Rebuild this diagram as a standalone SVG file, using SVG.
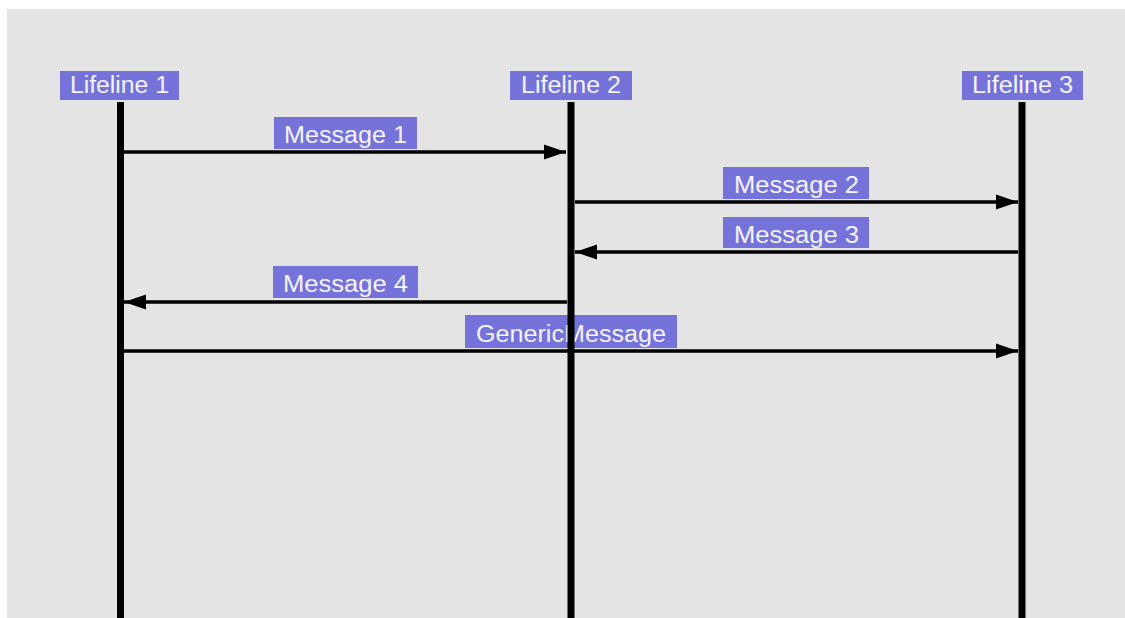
<svg xmlns="http://www.w3.org/2000/svg" width="1125" height="618" viewBox="0 0 1125 618">
<style>
.bg{fill:#e4e4e4}
.lbl{fill:#7573d9}
.t{font-family:"Liberation Sans",Arial,Helvetica,sans-serif;font-size:23px;fill:#f4f4ff}
.life{stroke:#000;stroke-width:7;fill:none}
.msg{stroke:#000;stroke-width:3.5;fill:none;marker-end:url(#ah)}
</style>
<defs>
<marker id="ah" markerUnits="userSpaceOnUse" markerWidth="24" markerHeight="16" refX="22" refY="8" orient="auto">
<path d="M0,0.5 L22,8 L0,15.5 z" fill="#000"/>
</marker>
</defs>
<rect width="1125" height="618" fill="#fff"/>
<rect class="bg" x="7" y="9" width="1118" height="609"/>
<g id="connectors">
<line id="m1" class="msg" x1="124" y1="152" x2="566" y2="152"/>
<line id="m2" class="msg" x1="575" y1="202" x2="1018" y2="202"/>
<line id="m3" class="msg" x1="1018" y1="252" x2="575" y2="252"/>
<line id="m4" class="msg" x1="567" y1="302" x2="124" y2="302"/>
<line id="mg" class="msg" x1="124" y1="351" x2="1018" y2="351"/>
</g>
<g id="label-message1"><rect class="lbl" x="274" y="117" width="143" height="32"/><text class="t" x="284" y="143" textLength="123" lengthAdjust="spacingAndGlyphs">Message 1</text></g>
<g id="label-message2"><rect class="lbl" x="723" y="167" width="146" height="32"/><text class="t" x="734" y="193" textLength="125" lengthAdjust="spacingAndGlyphs">Message 2</text></g>
<g id="label-message3"><rect class="lbl" x="723" y="217" width="146" height="31"/><text class="t" x="734" y="243" textLength="125" lengthAdjust="spacingAndGlyphs">Message 3</text></g>
<g id="label-message4"><rect class="lbl" x="273" y="266" width="145" height="32"/><text class="t" x="283" y="292" textLength="125" lengthAdjust="spacingAndGlyphs">Message 4</text></g>
<g id="label-generic"><rect class="lbl" x="465" y="315" width="212" height="33"/><text class="t" x="476" y="342" textLength="190" lengthAdjust="spacingAndGlyphs">GenericMessage</text></g>
<g id="lifeline1"><rect class="lbl" x="60" y="71" width="119" height="29"/><text class="t" x="70" y="93" textLength="99" lengthAdjust="spacingAndGlyphs">Lifeline 1</text><line class="life" x1="120.5" y1="102" x2="120.5" y2="618"/></g>
<g id="lifeline2"><rect class="lbl" x="510" y="71" width="122" height="29"/><text class="t" x="521" y="93" textLength="100" lengthAdjust="spacingAndGlyphs">Lifeline 2</text><line class="life" x1="571" y1="102" x2="571" y2="618"/></g>
<g id="lifeline3"><rect class="lbl" x="962" y="71" width="121" height="29"/><text class="t" x="972" y="93" textLength="101" lengthAdjust="spacingAndGlyphs">Lifeline 3</text><line class="life" x1="1022" y1="102" x2="1022" y2="618"/></g>
</svg>
